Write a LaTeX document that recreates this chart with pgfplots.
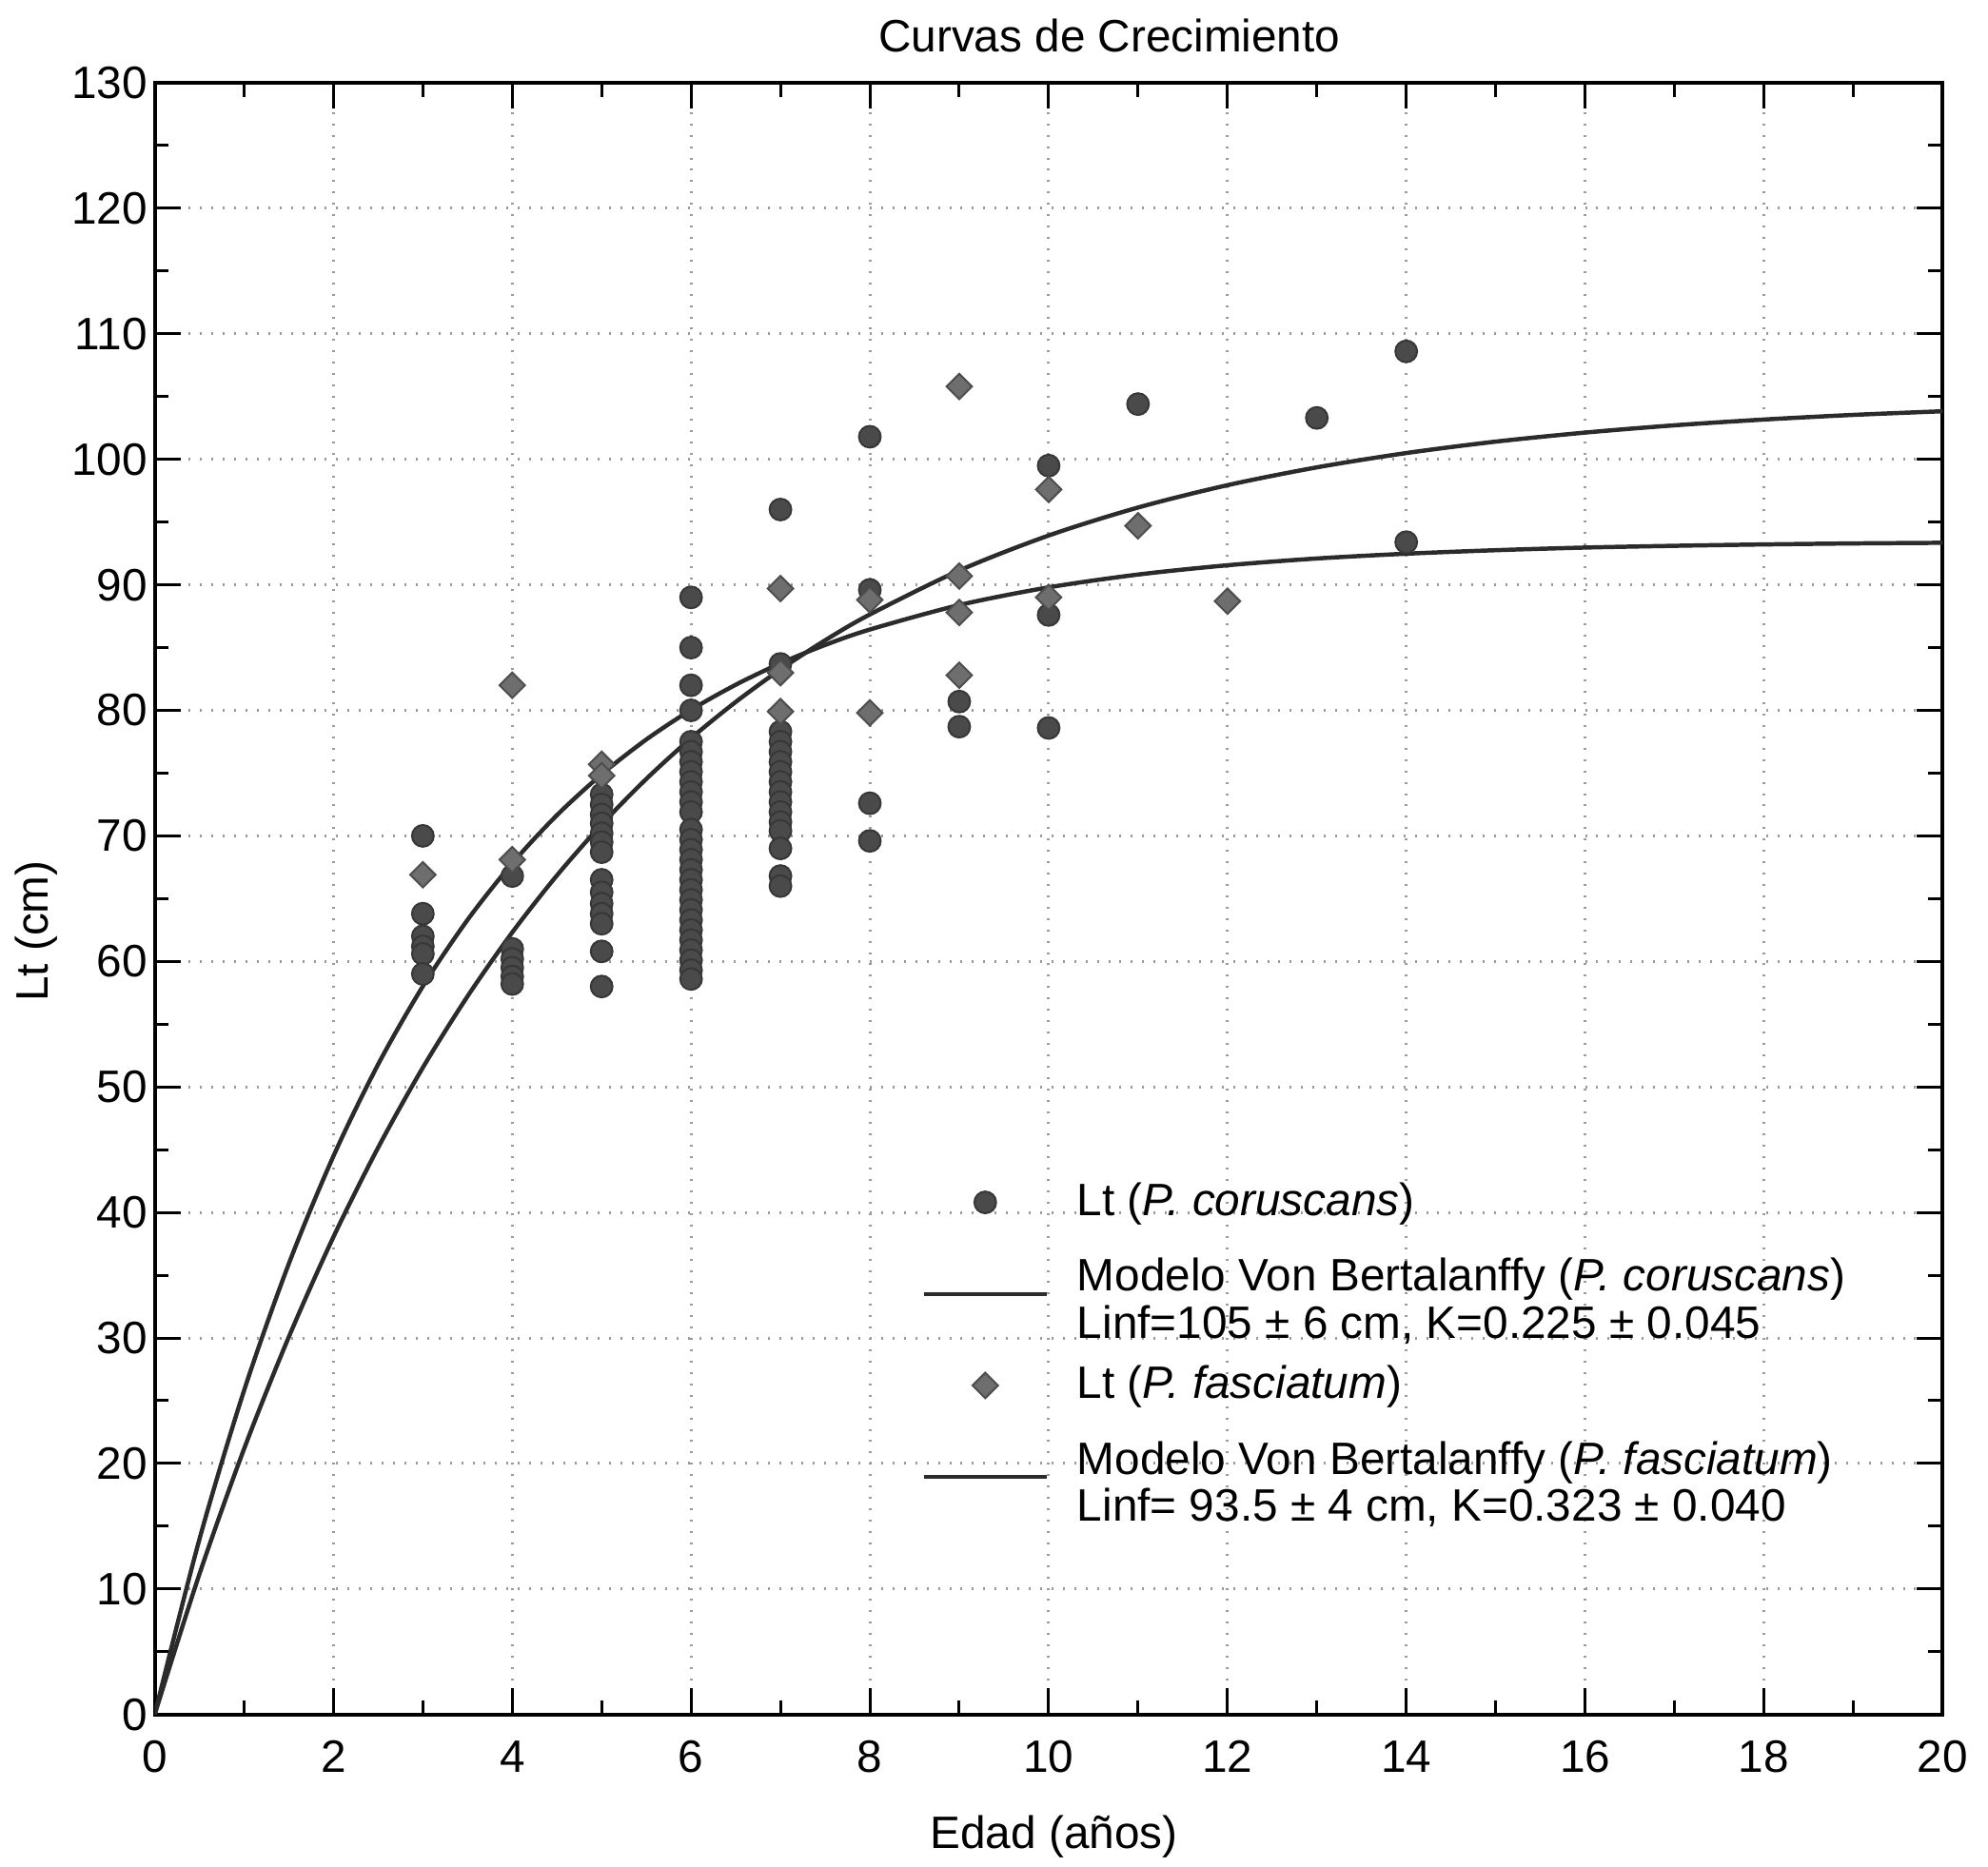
\documentclass[border=0pt]{standalone}
\usepackage{fontspec}
\setmainfont{Liberation Sans}
\usepackage{pgfplots}
\pgfplotsset{compat=1.18}
\definecolor{circ}{HTML}{4A4A4A}
\definecolor{diam}{HTML}{6E6E6E}
\definecolor{curvec}{HTML}{2B2B2B}
\definecolor{gridc}{HTML}{9A9A9A}
\begin{document}
\begin{tikzpicture}
\path[use as bounding box] (-32.7pt,-32.2pt) rectangle (387.6pt,362.5pt);
\begin{axis}[
  scale only axis, width=378pt, height=345pt,
  at={(0,0)}, anchor=south west,
  xmin=0, xmax=20, ymin=0, ymax=130,
  xtick={0,2,...,20}, ytick={0,10,...,130},
  minor x tick num=1, minor y tick num=1,
  tick align=inside, major tick length=5.5pt, minor tick length=3pt,
  grid=major, major grid style={gridc, dotted, line width=0.6pt},
  axis line style={line width=0.8pt},
  every tick/.style={black, line width=0.6pt},
  font=\fontsize{9.6}{10}\selectfont,
  /pgf/number format/assume math mode=true,
  xticklabel style={yshift=-2pt},
  yticklabel style={xshift=2pt},
  title={Curvas de Crecimiento},
  title style={at={(axis description cs:0.534,1)}, anchor=center, yshift=4pt},
  xlabel={Edad (años)},
  xlabel style={at={(axis description cs:0.503,-0.075)}, anchor=center},
  ylabel={Lt (cm)},
  ylabel style={at={(axis description cs:-0.066,0.48)}, anchor=center},
  legend cell align=left,
  legend style={at={(axis cs:8.41,43.6)}, anchor=north west, draw=none, fill=none,
    row sep=5.5pt, nodes={inner sep=1pt},
    /tikz/every odd column/.append style={column sep=5pt}},
  legend image code/.code={\draw[mark repeat=2,mark phase=2,#1] plot coordinates {(0pt,0pt)(13pt,0pt)(26pt,0pt)};},
]
\addplot[only marks, mark=*, mark size=2.3pt, mark options={fill=circ, draw=circ!75!black, line width=0.4pt}] coordinates {
(3,70) (3,63.8) (3,62) (3,61.2) (3,60.6) (3,59)
(4,66.8) (4,61) (4,60.2) (4,59.5) (4,58.8) (4,58.2)
(5,73.3) (5,72.5) (5,71.7) (5,71) (5,70.2) (5,69.5) (5,68.7) (5,66.5) (5,65.5) (5,64.6) (5,63.8) (5,63) (5,60.8) (5,58)
(6,89) (6,85) (6,82) (6,80) (6,77.5) (6,76.7) (6,75.9) (6,75.1) (6,74.3) (6,73.5) (6,72.7) (6,71.9) (6,70.5) (6,69.7) (6,68.9) (6,68.1) (6,67.3) (6,66.5) (6,65.7) (6,64.9) (6,64.1) (6,63.3) (6,62.5) (6,61.7) (6,60.9) (6,60.1) (6,59.3) (6,58.6)
(7,96) (7,83.7) (7,78.3) (7,77.5) (7,76.7) (7,75.9) (7,75.1) (7,74.3) (7,73.5) (7,72.7) (7,71.9) (7,71.1) (7,70.4) (7,69) (7,66.8) (7,66)
(8,101.8) (8,89.6) (8,72.6) (8,69.6)
(9,80.7) (9,78.7)
(10,99.5) (10,87.6) (10,78.6)
(11,104.4)
(13,103.3)
(14,108.6) (14,93.4)
};
\addlegendentry{Lt (\textit{P. coruscans})}
\addplot[curvec, line width=0.9pt, smooth, no marks] coordinates {
(0,0) (0.5,11.17) (1,21.16) (1.5,30.07) (2,38.05) (2.5,45.17) (3,51.54) (3.5,57.22) (4,62.31) (4.5,66.85) (5,70.91) (5.5,74.54) (6,77.78) (6.5,80.67) (7,83.26) (7.5,85.58) (8,87.64) (9,91.14) (10,93.93) (11,96.16) (12,97.94) (13,99.36) (14,100.50) (15,101.41) (16,102.13) (17,102.71) (18,103.17) (19,103.54) (20,103.83)
};
\addlegendentry{\begin{tabular}{@{}l@{}}Modelo Von Bertalanffy (\textit{P. coruscans})\\Linf=105 ± 6 cm, K=0.225 ± 0.045\rule[-5.5pt]{0pt}{0pt}\end{tabular}}
\addplot[only marks, mark=square*, mark size=1.9pt, mark options={rotate=45, fill=diam, draw=diam!70!black, line width=0.4pt}] coordinates {
(3,66.9)
(4,82) (4,68.1)
(5,75.7) (5,74.8)
(7,89.7) (7,83) (7,79.9)
(8,88.8) (8,79.8)
(9,105.8) (9,90.7) (9,87.8) (9,82.8)
(10,97.6) (10,89)
(11,94.7)
(12,88.7)
};
\addlegendentry{Lt (\textit{P. fasciatum})}
\addplot[curvec, line width=0.9pt, smooth, no marks] coordinates {
(0,0) (0.5,13.94) (1,25.81) (1.5,35.90) (2,44.49) (2.5,51.80) (3,58.02) (3.5,63.31) (4,67.81) (4.5,71.65) (5,74.90) (5.5,77.68) (6,80.04) (6.5,82.04) (7,83.75) (7.5,85.21) (8,86.44) (9,88.39) (10,89.80) (11,90.82) (12,91.56) (13,92.10) (14,92.48) (15,92.76) (16,92.97) (17,93.11) (18,93.22) (19,93.30) (20,93.35)
};
\addlegendentry{\begin{tabular}{@{}l@{}}Modelo Von Bertalanffy (\textit{P. fasciatum})\\Linf= 93.5 ± 4 cm, K=0.323 ± 0.040\rule[-5.5pt]{0pt}{0pt}\end{tabular}}
\end{axis}
\end{tikzpicture}
\end{document}
